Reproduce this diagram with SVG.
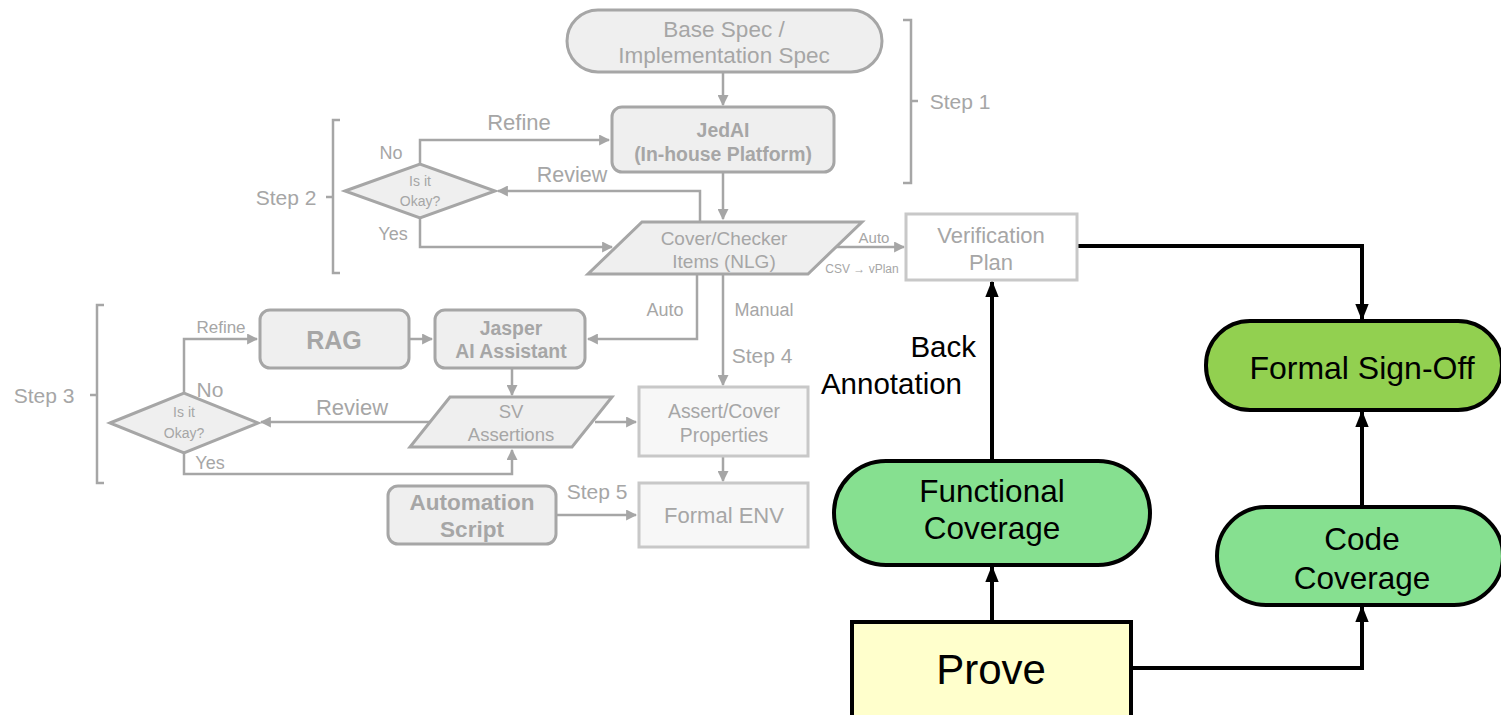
<svg xmlns="http://www.w3.org/2000/svg" width="1501" height="715" viewBox="0 0 1501 715">
<defs>
<style>
text{font-family:"Liberation Sans",Arial,sans-serif;text-anchor:middle;dominant-baseline:central}
.g{fill:#a6a6a6}
.gb{fill:#a6a6a6;font-weight:bold}
.k{fill:#000}
.gs{fill:#efefef;stroke:#a6a6a6;stroke-width:3}
.ls{fill:#f7f7f7;stroke:#c8c8c8;stroke-width:3}
.gl{fill:none;stroke:#a6a6a6;stroke-width:2.5}
.kl{fill:none;stroke:#000;stroke-width:4}
.ks{stroke:#000;stroke-width:4}
</style>
<marker id="ag" viewBox="0 0 10 10" refX="9" refY="5" markerWidth="11" markerHeight="11" orient="auto" markerUnits="userSpaceOnUse"><path d="M0,0 L10,5 L0,10 z" fill="#a6a6a6"/></marker>
<marker id="ak" viewBox="0 0 10 8" refX="9" refY="4" markerWidth="17" markerHeight="13.6" orient="auto" markerUnits="userSpaceOnUse"><path d="M0,0 L10,4 L0,8 z" fill="#000"/></marker>
</defs>
<rect width="1501" height="715" fill="#fff"/>

<g id="connectors">
<path class="gl" d="M723,73 V105" marker-end="url(#ag)"/>
<path class="gl" d="M420,164 V140 H609" marker-end="url(#ag)"/>
<path class="gl" d="M700,222 V191 H498" marker-end="url(#ag)"/>
<path class="gl" d="M420,218 V247 H612" marker-end="url(#ag)"/>
<path class="gl" d="M723,172 V219" marker-end="url(#ag)"/>
<path class="gl" d="M836,247 H904" marker-end="url(#ag)"/>
<path class="gl" d="M697,274 V339 H588" marker-end="url(#ag)"/>
<path class="gl" d="M723,274 V385" marker-end="url(#ag)"/>
<path class="gl" d="M409,339 H432" marker-end="url(#ag)"/>
<path class="gl" d="M512,368 V395" marker-end="url(#ag)"/>
<path class="gl" d="M184,393 V339 H257" marker-end="url(#ag)"/>
<path class="gl" d="M430,422 H261" marker-end="url(#ag)"/>
<path class="gl" d="M184,453 V474 H512 V450" marker-end="url(#ag)"/>
<path class="gl" d="M595,422 H636" marker-end="url(#ag)"/>
<path class="gl" d="M723,456 V481" marker-end="url(#ag)"/>
<path class="gl" d="M556,515 H636" marker-end="url(#ag)"/>
<path class="kl" d="M1077,246 H1362 V319" marker-end="url(#ak)"/>
<path class="kl" d="M992,461 V282" marker-end="url(#ak)"/>
<path class="kl" d="M992,622 V567" marker-end="url(#ak)"/>
<path class="kl" d="M1131,668 H1362 V607" marker-end="url(#ak)"/>
<path class="kl" d="M1362,507 V412" marker-end="url(#ak)"/>
</g>

<g id="brackets">
<path class="gl" d="M903,20 H911 V183 H903 M911,101 H918"/>
<text class="g" x="960" y="101" font-size="21">Step 1</text>
<path class="gl" d="M340,120 H333 V273 H340 M333,197 H326"/>
<text class="g" x="286" y="197" font-size="21">Step 2</text>
<path class="gl" d="M104,305 H97 V483 H104 M97,395 H90"/>
<text class="g" x="44" y="395" font-size="21">Step 3</text>
</g>

<g id="labels">
<text class="g" x="519" y="122" font-size="22">Refine</text>
<text class="g" x="391" y="153" font-size="18">No</text>
<text class="g" x="572" y="175" font-size="21.5">Review</text>
<text class="g" x="393" y="234" font-size="18">Yes</text>
<text class="g" x="874" y="237" font-size="15">Auto</text>
<text class="g" x="862" y="269" font-size="12">CSV → vPlan</text>
<text class="g" x="665" y="310" font-size="18">Auto</text>
<text class="g" x="764" y="310" font-size="18">Manual</text>
<text class="g" x="762" y="355" font-size="21">Step 4</text>
<text class="g" x="221" y="327" font-size="17">Refine</text>
<text class="g" x="210" y="389" font-size="21">No</text>
<text class="g" x="352" y="407" font-size="22">Review</text>
<text class="g" x="210" y="463" font-size="18">Yes</text>
<text class="g" x="597" y="491" font-size="21">Step 5</text>
<text class="k" x="976" y="346" font-size="29.5" style="text-anchor:end">Back</text>
<text class="k" x="962" y="383" font-size="29.5" style="text-anchor:end">Annotation</text>
</g>

<g id="base-spec">
<rect class="gs" x="567" y="10" width="315" height="62" rx="31"/>
<text class="g" x="724" y="29" font-size="22.5">Base Spec /</text>
<text class="g" x="724" y="55" font-size="22.5">Implementation Spec</text>
</g>
<g id="jedai">
<rect class="gs" x="612" y="107" width="222" height="65" rx="10"/>
<text class="gb" x="723" y="130" font-size="19.4">JedAI</text>
<text class="gb" x="723" y="154" font-size="19.4">(In-house Platform)</text>
</g>
<g id="decision1">
<polygon class="gs" points="345,191 420,164 495,191 420,218"/>
<text class="g" x="420" y="181" font-size="14">Is it</text>
<text class="g" x="420" y="201" font-size="14">Okay?</text>
</g>
<g id="cover-checker">
<polygon class="gs" points="642,222 862,222 808,274 588,274"/>
<text class="g" x="724" y="238" font-size="19">Cover/Checker</text>
<text class="g" x="724" y="261" font-size="19">Items (NLG)</text>
</g>
<g id="verification-plan">
<rect x="906" y="214" width="171" height="66" fill="#fff" stroke="#c8c8c8" stroke-width="3"/>
<text class="g" x="991" y="235" font-size="22">Verification</text>
<text class="g" x="991" y="262" font-size="22">Plan</text>
</g>
<g id="rag">
<rect class="gs" x="260" y="310" width="149" height="58" rx="10"/>
<text class="gb" x="334" y="340" font-size="25">RAG</text>
</g>
<g id="jasper">
<rect class="gs" x="435" y="310" width="150" height="58" rx="10"/>
<text class="gb" x="511" y="328" font-size="19.4">Jasper</text>
<text class="gb" x="511" y="351" font-size="19.4">AI Assistant</text>
</g>
<g id="decision2">
<polygon class="gs" points="110,423 184,393 258,423 184,453"/>
<text class="g" x="184" y="412" font-size="14">Is it</text>
<text class="g" x="184" y="433" font-size="14">Okay?</text>
</g>
<g id="sv-assertions">
<polygon class="gs" points="450,397 612,397 572,447 410,447"/>
<text class="g" x="511" y="411" font-size="18.5">SV</text>
<text class="g" x="511" y="434" font-size="18.5">Assertions</text>
</g>
<g id="assert-cover">
<rect class="ls" x="639" y="387" width="169" height="69"/>
<text class="g" x="724" y="411" font-size="19.4">Assert/Cover</text>
<text class="g" x="724" y="435" font-size="19.4">Properties</text>
</g>
<g id="formal-env">
<rect class="ls" x="639" y="483" width="169" height="64"/>
<text class="g" x="724" y="515" font-size="22">Formal ENV</text>
</g>
<g id="automation-script">
<rect class="gs" x="388" y="486" width="168" height="58" rx="10"/>
<text class="gb" x="472" y="502" font-size="22.5">Automation</text>
<text class="gb" x="472" y="529" font-size="22.5">Script</text>
</g>

<g id="formal-signoff">
<rect class="ks" x="1206" y="321" width="296" height="89" rx="44" fill="#92d050"/>
<text class="k" x="1362" y="368" font-size="32">Formal Sign-Off</text>
</g>
<g id="functional-coverage">
<rect class="ks" x="834" y="461" width="316" height="104" rx="52" fill="#86e090"/>
<text class="k" x="992" y="491" font-size="31.5">Functional</text>
<text class="k" x="992" y="528" font-size="31.5">Coverage</text>
</g>
<g id="code-coverage">
<rect class="ks" x="1217" y="507" width="286" height="98" rx="49" fill="#86e090"/>
<text class="k" x="1362" y="539" font-size="31.5">Code</text>
<text class="k" x="1362" y="578" font-size="31.5">Coverage</text>
</g>
<g id="prove">
<rect class="ks" x="852" y="622" width="279" height="96" fill="#ffffcc"/>
<text class="k" x="991" y="669" font-size="42">Prove</text>
</g>
</svg>
